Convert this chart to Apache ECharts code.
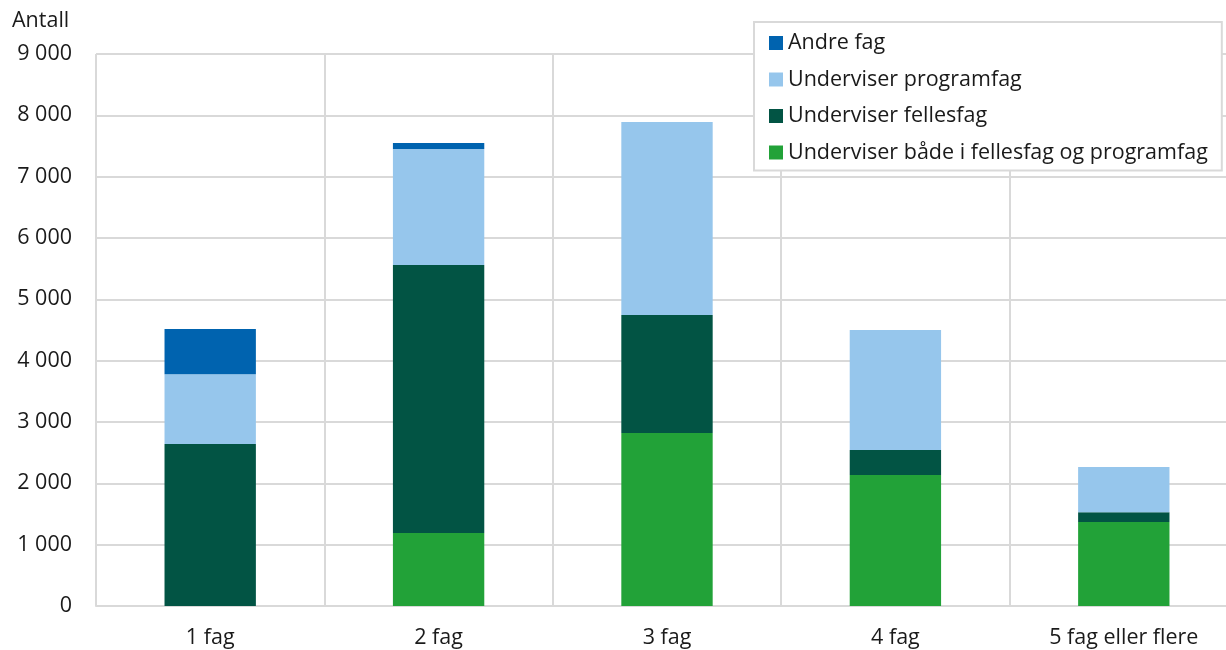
<!DOCTYPE html>
<html>
<head>
<meta charset="utf-8">
<script src="https://cdn.jsdelivr.net/npm/echarts@6/dist/echarts.min.js"></script>
<style>
html,body{margin:0;padding:0;background:#fff;overflow:hidden;width:1226px;height:650px;}
#chart{width:1238px;height:650px;}
</style>
</head>
<body>
<div id="chart"></div>
<script>
const categories = ['1 fag', '2 fag', '3 fag', '4 fag', '5 fag eller flere'];
const bothValues = [0, 1190, 2820, 2135, 1370];
const fellesValues = [2640, 4370, 1925, 410, 160];
const programValues = [1140, 1890, 3145, 1955, 735];
const andreValues = [735, 100, 0, 0, 0];
const yTicks = [0, 1000, 2000, 3000, 4000, 5000, 6000, 7000, 8000, 9000];

const names = {
  andre: 'Andre fag',
  program: 'Underviser programfag',
  felles: 'Underviser fellesfag',
  both: 'Underviser både i fellesfag og programfag'
};
const colors = {
  andre: '#0063AF',
  program: '#96C6EC',
  felles: '#025444',
  both: '#22A238'
};

const font = "'Open Sans', 'Noto Sans', sans-serif";
const FS = 21.5;
const chart = echarts.init(document.getElementById('chart'), null, {renderer: 'canvas'});

function fmt(v) {
  return String(v).replace(/\B(?=(\d{3})+(?!\d))/g, ' ');
}

function mk(key, data) {
  return {
    name: names[key],
    type: 'bar',
    stack: 'total',
    data: data,
    barWidth: '40%',
    itemStyle: {color: colors[key]},
    emphasis: {disabled: true}
  };
}

chart.setOption({
  animation: false,
  backgroundColor: '#fff',
  textStyle: {fontFamily: font},
  graphic: [{
    type: 'text', left: 12, top: 10,
    style: {text: 'Antall', font: FS + "px 'Open Sans', sans-serif", fill: '#1a1a1a'}
  }],
  legend: {
    orient: 'vertical',
    left: 754,
    top: 22,
    padding: [10, 14, 7, 15],
    itemWidth: 14,
    itemHeight: 14,
    itemGap: 14.5,
    backgroundColor: '#fff',
    borderColor: '#d9d9d9',
    borderWidth: 2,
    borderRadius: 0,
    icon: 'rect',
    data: [names.andre, names.program, names.felles, names.both],
    textStyle: {fontFamily: font, fontSize: FS, color: '#1a1a1a', lineHeight: 22},
    selectedMode: false
  },
  grid: {left: 96, right: 0, top: 54, bottom: 44, containLabel: false},
  xAxis: {
    type: 'category',
    data: categories,
    boundaryGap: true,
    axisLine: {show: true, lineStyle: {color: '#d9d9d9', width: 2}},
    axisTick: {show: false},
    splitLine: {show: true, interval: 0, lineStyle: {color: '#d9d9d9', width: 2}},
    axisLabel: {fontFamily: font, fontSize: FS, color: '#1a1a1a', margin: 21, interval: 0}
  },
  yAxis: {
    type: 'value',
    min: yTicks[0],
    max: yTicks[yTicks.length - 1],
    interval: 1000,
    axisLine: {show: false},
    axisTick: {show: false},
    splitLine: {show: true, lineStyle: {color: '#d9d9d9', width: 2}},
    axisLabel: {fontFamily: font, fontSize: FS, color: '#1a1a1a', margin: 24, formatter: fmt}
  },
  series: [
    mk('both', bothValues),
    mk('felles', fellesValues),
    mk('program', programValues),
    mk('andre', andreValues)
  ]
});
</script>
</body>
</html>
